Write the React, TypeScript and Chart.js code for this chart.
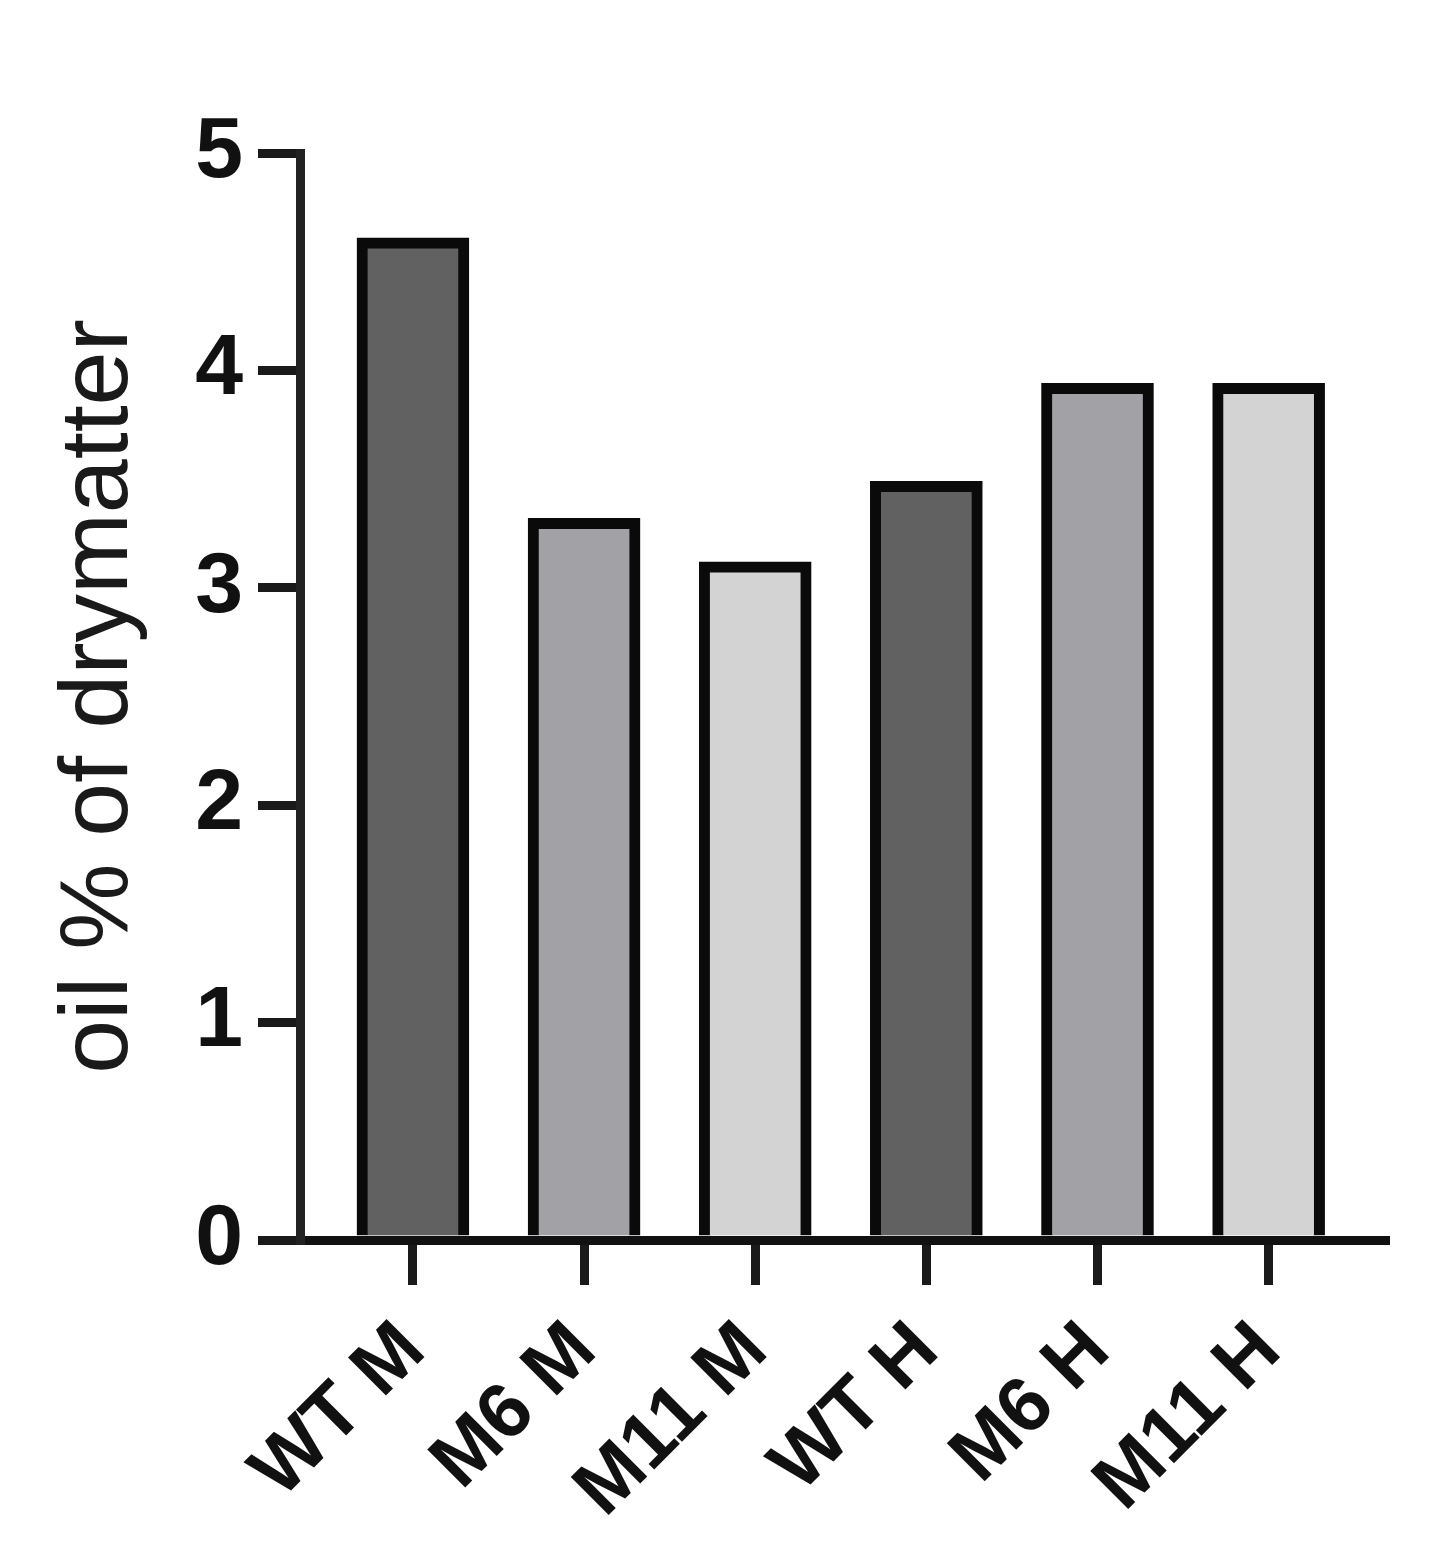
import { useEffect, useRef } from "react";
import { Chart, registerables } from "chart.js";

Chart.register(...registerables);

const categories = ["WT M", "M6 M", "M11 M", "WT H", "M6 H", "M11 H"];
const oilValues = [4.61, 3.32, 3.12, 3.49, 3.94, 3.94];
const barColors = ["#616161", "#a2a1a6", "#d3d3d3", "#616161", "#a2a1a6", "#d3d3d3"];
const yTicks = [0, 1, 2, 3, 4, 5];

const FONT = "'Liberation Sans', Arial, sans-serif";

const OilChart = () => {
  const canvasRef = useRef<HTMLCanvasElement | null>(null);
  const chartRef = useRef<Chart | null>(null);

  useEffect(() => {
    if (!canvasRef.current) return;
    const ctx = canvasRef.current.getContext("2d");
    if (!ctx) return;

    chartRef.current = new Chart(ctx, {
      type: "bar",
      data: {
        datasets: [
          {
            label: "oil % of drymatter",
            data: oilValues.map((v, i) => ({ x: i, y: v })),
            backgroundColor: barColors,
            borderColor: "#0a0a0a",
            borderWidth: 11,
            borderSkipped: "bottom",
            barThickness: 112
          }
        ]
      },
      options: {
        animation: false,
        responsive: true,
        maintainAspectRatio: false,
        devicePixelRatio: 1,
        layout: {
          padding: { top: 153, right: 66, left: 0, bottom: 0 }
        },
        plugins: {
          legend: { display: false },
          tooltip: { enabled: false }
        },
        scales: {
          x: {
            type: "linear",
            position: "bottom",
            offset: false,
            min: -0.66,
            max: 5.68,
            afterBuildTicks: (scale: any) => {
              scale.ticks = categories.map((_, i) => ({ value: i }));
            },
            afterFit: (scale: any) => {
              scale.height = 326;
            },
            grid: {
              offset: false,
              drawOnChartArea: false,
              drawTicks: true,
              tickLength: 45,
              lineWidth: 9,
              tickWidth: 9,
              color: "#1a1a1a",
              tickColor: "#1a1a1a"
            },
            border: { display: true, width: 9, color: "#111111" },
            ticks: {
              autoSkip: false,
              minRotation: 45,
              maxRotation: 45,
              padding: 20,
              color: "#111111",
              font: { family: FONT, size: 78, weight: "bold" },
              callback: (v: any) => categories[Number(v)] ?? ""
            }
          },
          y: {
            min: 0,
            max: 5,
            afterBuildTicks: (scale: any) => {
              scale.ticks = yTicks.map((v) => ({ value: v }));
            },
            afterFit: (scale: any) => {
              scale.width = 300;
            },
            grid: {
              drawOnChartArea: false,
              drawTicks: true,
              tickLength: 42,
              lineWidth: 9,
              tickWidth: 9,
              color: "#1a1a1a",
              tickColor: "#1a1a1a"
            },
            border: { display: true, width: 9, color: "#222222" },
            ticks: {
              padding: 15,
              color: "#111111",
              font: { family: FONT, size: 86, weight: "bold" }
            },
            title: {
              display: true,
              text: "oil % of drymatter",
              color: "#1a1a1a",
              font: { family: FONT, size: 97, weight: "normal" },
              padding: { top: 42, bottom: 0 }
            }
          }
        }
      }
    });

    return () => {
      chartRef.current?.destroy();
    };
  }, []);

  return (
    <div style={{ position: "absolute", left: 0, top: 0, width: 1451, height: 1566, background: "#ffffff" }}>
      <canvas ref={canvasRef} />
    </div>
  );
};

export default function App() {
  return <OilChart />;
}
